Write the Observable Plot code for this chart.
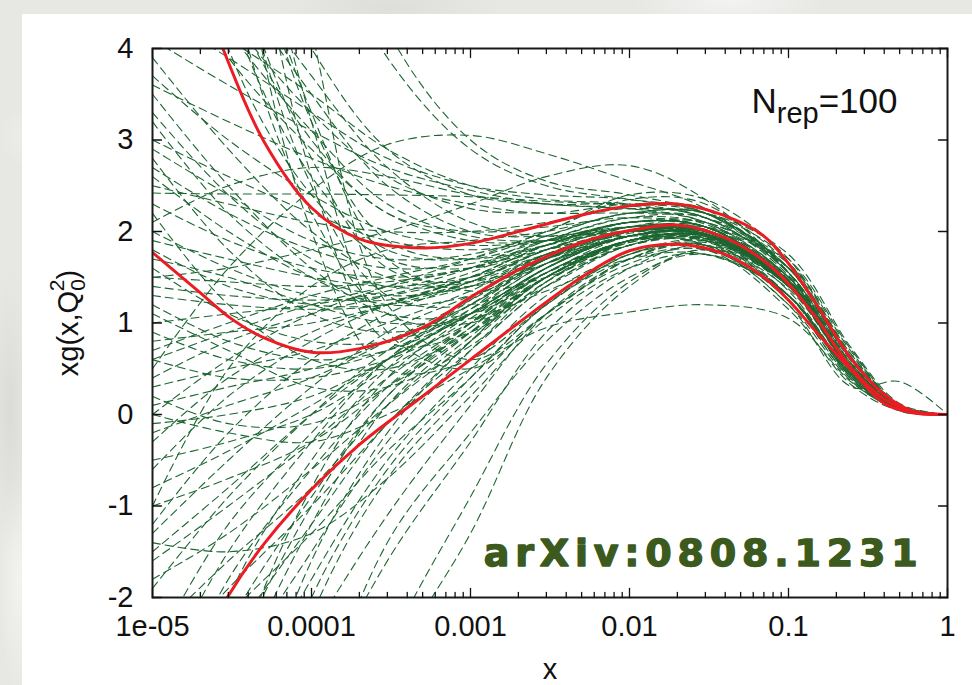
<!DOCTYPE html>
<html>
<head>
<meta charset="utf-8">
<script src="https://cdn.jsdelivr.net/npm/d3@7"></script>
<script src="https://cdn.jsdelivr.net/npm/@observablehq/plot@0.6"></script>
<style>
  html, body { margin: 0; padding: 0; }
  body {
    width: 972px; height: 685px; position: relative; overflow: hidden;
    background-color: #e7e7e4;
    background-image:
      radial-gradient(ellipse 120px 60px at 8% 20%, rgba(255,255,255,0.55), transparent 70%),
      radial-gradient(ellipse 160px 40px at 40% 1%, rgba(215,215,210,0.6), transparent 70%),
      radial-gradient(ellipse 140px 50px at 75% 0%, rgba(255,255,255,0.5), transparent 70%),
      radial-gradient(ellipse 30px 200px at 1% 60%, rgba(210,210,205,0.6), transparent 70%),
      radial-gradient(ellipse 30px 160px at 2% 85%, rgba(250,250,248,0.6), transparent 70%);
  }
  #panel { position: absolute; left: 22px; top: 14px; right: 0; bottom: 0; background: #ffffff; }
  #chart { position: absolute; left: 0; top: 0; }
</style>
</head>
<body>
<div id="panel"></div>
<div id="chart"></div>
<script>
// Sampling points in x shared by every replica curve
const replicaX = [1e-5, 3e-5, 1e-4, 3e-4, 1e-3, 3e-3, 0.01, 0.03, 0.1, 0.25, 0.5, 1];

// xg(x, Q0^2) for each of the 100 replicas, one row per replica, columns follow replicaX
const replicas = [
  [12, 6.5, 3.2, 1.9, 1.7, 1.85, 2.05, 2.0, 1.45, 0.5, 0.07, 0],
  [9, 5.2, 2.8, 1.6, 1.45, 1.7, 1.95, 1.9, 1.3, 0.42, 0.05, 0],
  [15, 10, 6.5, 4.2, 3.0, 2.55, 2.4, 2.2, 1.6, 0.58, 0.09, 0],
  [7, 4.6, 3.0, 2.2, 2.0, 2.05, 2.15, 2.05, 1.45, 0.5, 0.07, 0],
  [6, 4.4, 3.3, 2.6, 2.25, 2.2, 2.2, 2.15, 1.6, 0.62, 0.1, 0],
  [11, 5.5, 2.5, 1.3, 1.2, 1.55, 1.9, 1.95, 1.42, 0.48, 0.07, 0],
  [8, 5.8, 4.0, 2.9, 2.4, 2.3, 2.25, 2.2, 1.7, 0.7, 0.1, 0],
  [5.5, 4.2, 3.1, 2.3, 1.95, 1.9, 2.0, 2.0, 1.45, 0.5, 0.08, 0],
  [13, 7.2, 3.2, 0.9, 0.5, 1.1, 1.7, 1.85, 1.3, 0.4, 0.05, 0],
  [10, 4.8, 2.2, 1.1, 1.0, 1.4, 1.85, 1.95, 1.4, 0.46, 0.06, 0],
  [6.5, 5.0, 3.7, 2.7, 2.1, 1.95, 2.0, 1.95, 1.42, 0.49, 0.07, 0],
  [18, 9, 4.2, 1.2, 0.6, 1.1, 1.7, 1.9, 1.45, 0.5, 0.08, 0],
  [7.5, 4.0, 2.4, 1.7, 1.6, 1.8, 2.0, 1.97, 1.4, 0.48, 0.07, 0],
  [9.5, 7.5, 5.5, 3.9, 2.9, 2.5, 2.35, 2.2, 1.55, 0.6, 0.09, 0],
  [5.2, 3.9, 2.9, 2.2, 1.9, 1.9, 2.05, 2.05, 1.5, 0.53, 0.08, 0],
  [14, 6.0, 2.0, 0.5, 0.6, 1.2, 1.75, 1.85, 1.25, 0.38, 0.05, 0],
  [6.8, 4.9, 3.5, 2.5, 2.0, 1.95, 2.05, 2.0, 1.45, 0.5, 0.07, 0],
  [8.5, 4.5, 2.6, 1.8, 1.7, 1.9, 2.1, 2.1, 1.6, 0.65, 0.1, 0],
  [4.6, 4.1, 3.5, 2.9, 2.5, 2.35, 2.3, 2.15, 1.55, 0.55, 0.08, 0],
  [11, 6.2, 3.3, 1.7, 1.35, 1.5, 1.85, 1.92, 1.4, 0.48, 0.07, 0],
  [4.4, 3.9, 3.3, 2.8, 2.5, 2.4, 2.35, 2.2, 1.6, 0.58, 0.08, 0],
  [16, 7.5, 2.6, 0.8, 0.9, 1.45, 1.9, 2.0, 1.44, 0.49, 0.07, 0],
  [-8, -4.2, -1.6, -0.2, 0.8, 1.5, 1.85, 1.9, 1.4, 0.48, 0.07, 0],
  [-5, -2.8, -1.0, 0.2, 1.0, 1.6, 1.95, 1.95, 1.42, 0.49, 0.07, 0],
  [-12, -8, -4.5, -2.8, -1.3, 0.4, 1.4, 1.8, 1.2, 0.36, 0.05, 0],
  [-4, -2.5, -1.2, -0.1, 0.7, 1.4, 1.85, 1.92, 1.4, 0.48, 0.07, 0],
  [-6, -3.5, -1.8, -0.5, 0.5, 1.3, 1.75, 1.85, 1.37, 0.47, 0.06, 0],
  [-3.2, -2.2, -1.3, -0.4, 0.4, 1.2, 1.7, 1.8, 1.3, 0.42, 0.06, 0],
  [-9, -5.5, -3.2, -1.6, -0.3, 0.9, 1.6, 1.85, 1.4, 0.48, 0.07, 0],
  [-14, -9, -5, -2.6, -0.9, 0.55, 1.45, 1.8, 1.42, 0.5, 0.07, 0],
  [-3.5, -1.8, -0.6, 0.3, 1.0, 1.55, 1.9, 1.95, 1.43, 0.49, 0.07, 0],
  [-7, -3.0, -0.8, 0.4, 1.1, 1.65, 1.95, 2.0, 1.5, 0.55, 0.08, 0],
  [-2.8, -1.9, -1.0, -0.1, 0.8, 1.5, 1.9, 1.93, 1.41, 0.48, 0.07, 0],
  [-10, -5, -2.2, -0.7, 0.3, 1.1, 1.65, 1.8, 1.15, 0.32, 0.04, 0],
  [-4.5, -2.0, -0.5, 0.5, 1.15, 1.7, 2.0, 2.0, 1.45, 0.5, 0.07, 0],
  [-6, -4.0, -2.4, -1.1, 0.1, 1.1, 1.7, 1.88, 1.4, 0.48, 0.07, 0],
  [-2.6, -1.2, -0.2, 0.6, 1.2, 1.7, 1.98, 2.0, 1.46, 0.51, 0.08, 0],
  [-5.5, -3.0, -1.5, -0.3, 0.7, 1.45, 1.9, 1.95, 1.43, 0.49, 0.07, 0],
  [-8, -4.5, -2.0, -0.6, 0.4, 1.2, 1.75, 1.9, 1.41, 0.48, 0.07, 0],
  [-3, -1.5, -0.3, 0.6, 1.25, 1.75, 2.0, 2.05, 1.6, 0.62, 0.09, 0],
  [-11, -6.5, -3.5, -1.4, -0.2, 0.8, 1.5, 1.75, 1.3, 0.44, 0.06, 0],
  [-4, -2.3, -0.9, 0.2, 0.95, 1.55, 1.9, 1.95, 1.42, 0.49, 0.07, 0],
  [-6.5, -3.2, -1.2, 0.1, 0.9, 1.5, 1.88, 1.93, 1.42, 0.48, 0.07, 0],
  [-2.4, -1.6, -0.8, 0.1, 0.85, 1.5, 1.9, 1.95, 1.42, 0.49, 0.07, 0],
  [2.42, 2.41, 2.41, 2.40, 2.38, 2.33, 2.28, 2.15, 1.55, 0.55, 0.08, 0],
  [0.5, 1.6, 2.45, 2.95, 3.05, 2.85, 2.55, 2.25, 1.55, 0.52, 0.07, 0],
  [4.1, 3.6, 3.1, 2.7, 2.45, 2.3, 2.25, 2.1, 1.5, 0.5, 0.07, 0],
  [3.7, 3.0, 2.4, 2.0, 1.85, 1.9, 2.05, 2.02, 1.45, 0.5, 0.07, 0],
  [2.6, 2.0, 1.5, 1.3, 1.4, 1.7, 2.0, 2.0, 1.35, 0.44, 0.06, 0],
  [1.8, 1.4, 1.2, 1.2, 1.4, 1.75, 2.0, 1.98, 1.43, 0.5, 0.07, 0],
  [1.3, 1.2, 1.15, 1.2, 1.45, 1.8, 2.05, 2.1, 1.6, 0.62, 0.09, 0],
  [0.8, 0.9, 1.0, 1.2, 1.5, 1.85, 2.1, 2.05, 1.47, 0.51, 0.08, 0],
  [0.3, 0.5, 0.7, 1.0, 1.35, 1.75, 2.0, 2.0, 1.44, 0.49, 0.07, 0],
  [-0.2, 0.1, 0.4, 0.8, 1.25, 1.7, 2.0, 1.95, 1.3, 0.4, 0.05, 0],
  [-0.8, -0.4, 0.1, 0.6, 1.1, 1.6, 1.95, 1.97, 1.43, 0.49, 0.07, 0],
  [-1.0, -0.7, -0.3, 0.3, 0.95, 1.5, 1.9, 1.95, 1.42, 0.48, 0.07, 0],
  [-1.3, -0.5, 0.3, 0.9, 1.3, 1.7, 1.95, 2.05, 1.65, 0.68, 0.1, 0],
  [-1.6, -1.0, -0.3, 0.4, 1.0, 1.55, 1.9, 1.95, 1.42, 0.48, 0.07, 0],
  [-1.9, -0.9, 0.0, 0.7, 1.2, 1.65, 1.95, 1.96, 1.43, 0.49, 0.07, 0],
  [3.2, 2.2, 1.5, 1.2, 1.3, 1.65, 1.95, 1.97, 1.43, 0.49, 0.07, 0],
  [2.3, 1.9, 1.6, 1.5, 1.6, 1.85, 2.1, 2.05, 1.47, 0.5, 0.07, 0],
  [1.5, 1.45, 1.4, 1.45, 1.6, 1.9, 2.15, 2.15, 1.65, 0.65, 0.1, 0],
  [1.2, 0.8, 0.6, 0.7, 1.1, 1.6, 1.95, 1.97, 1.43, 0.49, 0.07, 0],
  [2.8, 1.8, 1.1, 0.9, 1.1, 1.55, 1.9, 1.9, 1.3, 0.4, 0.05, 0],
  [3.5, 2.5, 1.6, 1.1, 1.1, 1.5, 1.9, 1.95, 1.42, 0.49, 0.07, 0],
  [0.1, 0.3, 0.5, 0.8, 1.2, 1.7, 2.05, 2.02, 1.45, 0.5, 0.07, 0],
  [-0.5, -0.3, 0.0, 0.5, 1.05, 1.6, 2.0, 2.0, 1.44, 0.5, 0.07, 0],
  [1.0, 1.1, 1.2, 1.35, 1.6, 1.95, 2.2, 2.2, 1.75, 0.72, 0.12, 0],
  [2.0, 1.6, 1.3, 1.25, 1.45, 1.8, 2.1, 2.05, 1.46, 0.5, 0.07, 0],
  [0.6, 0.4, 0.4, 0.6, 1.0, 1.5, 1.9, 1.95, 1.42, 0.49, 0.07, 0],
  [3.0, 2.6, 2.2, 1.9, 1.8, 1.9, 2.1, 2.05, 1.46, 0.5, 0.07, 0],
  [1.6, 1.1, 0.8, 0.8, 1.1, 1.55, 1.95, 1.98, 1.44, 0.49, 0.07, 0],
  [-0.3, 0.4, 0.9, 1.2, 1.5, 1.85, 2.1, 2.05, 1.46, 0.5, 0.07, 0],
  [0.9, 0.6, 0.5, 0.7, 1.15, 1.65, 2.0, 2.0, 1.44, 0.5, 0.07, 0],
  [2.2, 1.2, 0.6, 0.5, 0.9, 1.5, 1.9, 1.85, 1.25, 0.38, 0.05, 0],
  [-1.2, -0.2, 0.6, 1.1, 1.45, 1.8, 2.05, 2.02, 1.45, 0.5, 0.07, 0],
  [1.4, 1.3, 1.25, 1.3, 1.5, 1.8, 2.05, 2.02, 1.45, 0.5, 0.07, 0],
  [2.5, 2.3, 2.1, 2.0, 2.0, 2.1, 2.25, 2.15, 1.52, 0.52, 0.08, 0],
  [0.2, -0.1, -0.1, 0.3, 0.9, 1.5, 1.9, 1.95, 1.42, 0.49, 0.07, 0],
  [3.9, 2.9, 2.0, 1.5, 1.4, 1.65, 1.95, 1.97, 1.43, 0.49, 0.07, 0],
  [-0.6, 0.2, 0.8, 1.2, 1.5, 1.85, 2.1, 2.05, 1.46, 0.5, 0.07, 0],
  [1.9, 1.7, 1.5, 1.4, 1.5, 1.75, 2.0, 2.0, 1.44, 0.5, 0.07, 0],
  [0.4, 0.8, 1.1, 1.3, 1.55, 1.9, 2.15, 2.08, 1.48, 0.51, 0.08, 0],
  [-1.5, -0.8, 0.0, 0.6, 1.1, 1.6, 1.95, 1.97, 1.43, 0.49, 0.07, 0],
  [2.7, 2.2, 1.8, 1.6, 1.65, 1.85, 2.1, 2.05, 1.46, 0.5, 0.07, 0],
  [1.1, 0.7, 0.3, 0.3, 0.75, 1.4, 1.85, 1.92, 1.41, 0.48, 0.07, 0],
  [0.7, 1.0, 1.3, 1.5, 1.7, 1.95, 2.2, 2.1, 1.5, 0.52, 0.08, 0],
  [-1.8, -1.3, -0.6, 0.1, 0.8, 1.45, 1.88, 1.93, 1.42, 0.48, 0.07, 0],
  [3.3, 2.4, 1.7, 1.4, 1.45, 1.75, 2.0, 2.0, 1.44, 0.5, 0.07, 0],
  [-0.1, 0.0, 0.2, 0.6, 1.1, 1.6, 1.95, 1.97, 1.43, 0.49, 0.07, 0],
  [1.5, 1.6, 1.8, 2.0, 2.3, 2.6, 2.72, 2.35, 1.55, 0.45, 0.04, 0],
  [0.0, -0.2, -0.3, 0.0, 0.5, 0.95, 1.12, 1.2, 1.05, 0.35, 0.05, 0],
  [0.6, 0.9, 1.2, 1.4, 1.6, 1.8, 1.95, 1.85, 1.2, 0.3, 0.36, 0],
  [2.1, 2.5, 2.7, 2.6, 2.4, 2.3, 2.3, 2.2, 1.6, 0.55, 0.07, 0],
  [-1.0, 0.5, 1.4, 1.8, 1.9, 2.0, 2.2, 2.2, 1.6, 0.58, 0.09, 0],
  [0.0, 0.6, 1.1, 1.4, 1.7, 2.0, 2.35, 2.3, 1.55, 0.52, 0.08, 0],
  [1.7, 1.5, 1.2, 1.0, 1.05, 1.35, 1.7, 1.75, 1.3, 0.42, 0.06, 0],
  [3.6, 3.2, 2.8, 2.5, 2.3, 2.2, 2.3, 2.25, 1.65, 0.6, 0.09, 0],
  [-1.4, -1.5, -1.3, -0.7, 0.2, 1.05, 1.6, 1.75, 1.3, 0.44, 0.06, 0],
  [2.9, 2.4, 1.9, 1.7, 1.75, 2.0, 2.4, 2.35, 1.7, 0.62, 0.1, 0]
];

// Central value and one-sigma band of the replica ensemble
const bandX   = [1e-5, 2e-5, 3e-5, 5e-5, 1e-4, 2e-4, 5e-4, 1e-3, 2e-3, 5e-3, 0.01, 0.02, 0.04, 0.07, 0.1, 0.15, 0.25, 0.4, 0.6, 1];
const central = [1.77, 1.33, 1.07, 0.84, 0.68, 0.72, 0.95, 1.28, 1.58, 1.88, 2.01, 2.07, 1.93, 1.68, 1.43, 1.05, 0.50, 0.17, 0.03, 0];
const upper   = [6.5, 4.7, 3.85, 2.99, 2.26, 1.92, 1.82, 1.87, 2.0, 2.18, 2.28, 2.30, 2.17, 1.95, 1.65, 1.2, 0.6, 0.22, 0.04, 0];
const lower   = [-3.6, -2.55, -1.98, -1.42, -0.82, -0.33, 0.2, 0.6, 1.0, 1.5, 1.79, 1.86, 1.75, 1.5, 1.25, 0.9, 0.48, 0.12, 0.02, 0];

// Axis ticks and labels
const xMajor = [1e-5, 1e-4, 1e-3, 0.01, 0.1, 1];
const xTickLabels = ["1e-05", "0.0001", "0.001", "0.01", "0.1", "1"];
const yTicks = [-2, -1, 0, 1, 2, 3, 4];
const xMinor = xMajor.slice(0, -1).flatMap(d => [2, 3, 4, 5, 6, 7, 8, 9].map(k => k * d));

const replicaRows = replicas.flatMap((ys, k) => ys.map((y, j) => ({rep: k, x: replicaX[j], y})));
const bandRows = [["central", central], ["upper", upper], ["lower", lower]]
  .flatMap(([band, ys]) => ys.map((y, j) => ({band, x: bandX[j], y})));

// A plain tick stroke for the inward-facing frame ticks
const tickShape = {draw(context, l) { context.moveTo(0, 0); context.lineTo(0, -l); }};
const tickStyle = {anchor: "start", shape: tickShape, stroke: "#111", strokeWidth: 1.3};

const green = "#1c6631";
const red = "#ec1c24";

const chart = Plot.plot({
  width: 972,
  height: 685,
  marginLeft: 152,
  marginRight: 25,
  marginTop: 48,
  marginBottom: 88,
  style: {background: "transparent", fontFamily: "'Liberation Sans', Arial, sans-serif", overflow: "visible"},
  x: {type: "log", domain: [1e-5, 1], label: null},
  y: {domain: [-2, 4], label: null},
  marks: [
    Plot.line(replicaRows, {x: "x", y: "y", z: "rep", curve: "catmull-rom", stroke: green,
      strokeWidth: 1.1, strokeDasharray: "8,5", clip: true}),
    Plot.line(bandRows, {x: "x", y: "y", z: "band", curve: "catmull-rom", stroke: red,
      strokeWidth: 3, clip: true}),
    Plot.frame({stroke: "#1a1a1a", strokeWidth: 2}),
    Plot.vector(xMajor, {x: d => d, frameAnchor: "bottom", length: 9, rotate: 0, ...tickStyle}),
    Plot.vector(xMinor, {x: d => d, frameAnchor: "bottom", length: 5, rotate: 0, ...tickStyle}),
    Plot.vector(xMajor, {x: d => d, frameAnchor: "top", length: 9, rotate: 180, ...tickStyle}),
    Plot.vector(xMinor, {x: d => d, frameAnchor: "top", length: 5, rotate: 180, ...tickStyle}),
    Plot.vector(yTicks, {y: d => d, frameAnchor: "left", length: 9, rotate: 90, ...tickStyle}),
    Plot.vector(yTicks, {y: d => d, frameAnchor: "right", length: 9, rotate: -90, ...tickStyle}),
    Plot.axisX(xMajor, {anchor: "bottom", tickSize: 0, tickPadding: 18, fontSize: 29, color: "#111",
      label: null, tickFormat: d => xTickLabels[Math.round(Math.log10(d)) + 5]}),
    Plot.axisY(yTicks, {anchor: "left", tickSize: 0, tickPadding: 19, fontSize: 29, color: "#111",
      label: null, tickFormat: d => String(d)}),
    Plot.text(["x"], {frameAnchor: "bottom", dy: 81, lineAnchor: "bottom", fontSize: 29, fill: "#111"}),
    Plot.text(["xg(x,Q"], {frameAnchor: "left", dx: -75, rotate: -90, textAnchor: "middle",
      lineAnchor: "bottom", fontSize: 29, fill: "#111"}),
    Plot.text(["N"], {frameAnchor: "top-right", dx: -50, dy: 64, textAnchor: "end",
      lineAnchor: "bottom", fontSize: 35, fill: "#111"}),
    Plot.text(["arXiv:0808.1231"], {frameAnchor: "bottom-right", dx: -24, dy: -32, textAnchor: "end",
      lineAnchor: "bottom", fontSize: 38, fontWeight: "bold", fontFamily: "'DejaVu Sans', sans-serif",
      fill: "#3c5a1d", stroke: "#3c5a1d", strokeWidth: 1.4})
  ]
});

document.getElementById("chart").append(chart);

// Sub- and superscripts in the labels
const svg = d3.select(chart);
const textWith = s => svg.selectAll("text").filter(function () { return this.textContent === s; });

const ylab = textWith("xg(x,Q");
ylab.append("tspan").attr("dy", 7).attr("font-size", 21).text("0");
ylab.append("tspan").attr("dx", -12).attr("dy", -21).attr("font-size", 21).text("2");
ylab.append("tspan").attr("dy", 14).attr("font-size", 29).text(")");

const nrep = textWith("N");
nrep.append("tspan").attr("dy", 10).attr("font-size", 29).text("rep");
nrep.append("tspan").attr("dy", -10).attr("font-size", 35).text("=100");

// Open up the stamp's letters a little
textWith("arXiv:0808.1231").attr("letter-spacing", "5.8px");
</script>
</body>
</html>
